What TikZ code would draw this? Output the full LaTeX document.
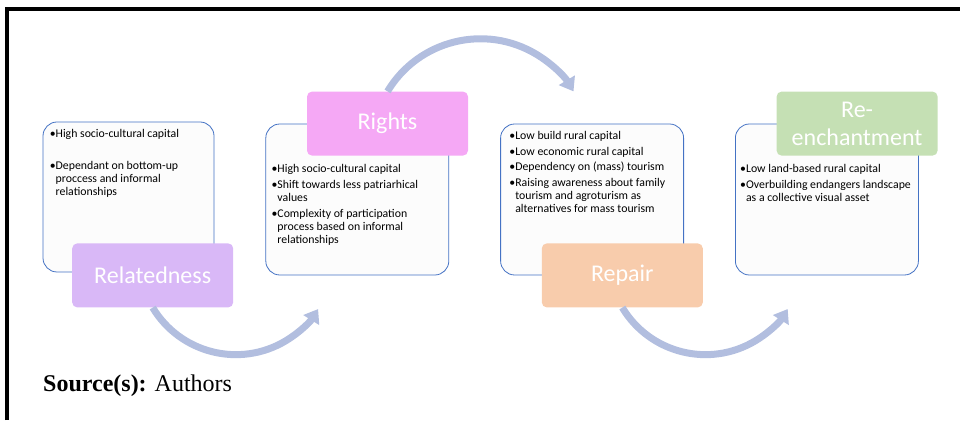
\documentclass[tikz,border=0pt]{standalone}
\usepackage{fontspec}
\setmainfont{Carlito}
\newfontfamily\timesfont{Liberation Serif}
\usepackage{xcolor}
\definecolor{boxblue}{HTML}{4472C4}
\definecolor{boxfill}{HTML}{FCFCFC}
\definecolor{relcol}{HTML}{D9B8F7}
\definecolor{rigcol}{HTML}{F5A8F5}
\definecolor{repcol}{HTML}{F8CCAC}
\definecolor{rencol}{HTML}{C5E0B4}
\definecolor{arrowcol}{HTML}{B2BEDF}
\usetikzlibrary{arrows.meta, positioning, calc}

\newcommand{\bl}{\textbullet}
\newcommand{\ind}{\phantom{\textbullet}}

\begin{document}
\begin{tikzpicture}[x=1pt, y=1pt,
    box/.style={rectangle, rounded corners=14pt, draw=boxblue, fill=boxfill, line width=0.8pt, minimum width=183pt, minimum height=151pt, inner sep=0pt},
    lab/.style={rectangle, rounded corners=5pt, minimum width=161pt, minimum height=64pt, inner sep=0pt, align=center, text=white, font=\fontsize{24}{28}\selectfont},
    txt/.style={inner sep=0pt, align=left, font=\fontsize{11.8}{13.2}\selectfont},
    flow/.style={draw=arrowcol, line width=7pt, -{Triangle[length=13pt, width=18pt]}},
    node distance=51pt]

        \useasboundingbox (0,0) rectangle (960,420);

        % Rahmen
        \draw[line width=3.5pt] (7,0) -- (7,411) -- (960,411);

        % Kaesten
        \node[box, minimum width=171pt, minimum height=150pt] (box1) at (128.5,223) {};
        \node[box, right=of box1, yshift=-2.5pt] (box2) {};
        \node[box, right=of box2] (box3) {};
        \node[box, right=of box3] (box4) {};

        % Texte in den Kaesten
        \node[txt, below right=8pt and 7pt of box1.north west] (txt1) {\bl High socio-cultural capital\\[18pt]
            \bl Dependant on bottom-up\\ \ind proccess and informal\\ \ind relationships};
        \node[txt, below right=41pt and 6pt of box2.north west] (txt2) {\bl High socio-cultural capital\\[2.3pt]
            \bl Shift towards less patriarhical\\ \ind values\\[2.3pt]
            \bl Complexity of participation\\ \ind process based on informal\\ \ind relationships};
        \node[txt, below right=8pt and 9pt of box3.north west] (txt3) {\bl Low build rural capital\\[2.3pt]
            \bl Low economic rural capital\\[2.3pt]
            \bl Dependency on (mass) tourism\\[2.3pt]
            \bl Raising awareness about family\\ \ind tourism and agroturism as\\ \ind alternatives for mass tourism};
        \node[txt, below right=41pt and 5pt of box4.north west] (txt4) {\bl Low land-based rural capital\\[2.3pt]
            \bl Overbuilding endangers landscape\\ \ind as a collective visual asset};

        % Etiketten
        \node[lab, fill=relcol, anchor=east] (rel) at ([xshift=19pt, yshift=-3pt]box1.south east) {Relatedness};
        \node[lab, fill=rigcol, anchor=east] (rig) at ([xshift=19pt]box2.north east) {Rights};
        \node[lab, fill=repcol, anchor=east] (rep) at ([xshift=19pt]box3.south east) {Repair};
        \node[lab, fill=rencol, anchor=east] (ren) at ([xshift=19pt]box4.north east) {Re-\\enchantment};

        % Pfeile
        \draw[flow] (rel.south) arc[start angle=211, end angle=328, radius=97pt];
        \draw[flow] (rig.north) arc[start angle=149, end angle=31, radius=108.5pt];
        \draw[flow] (rep.south) arc[start angle=211, end angle=328, radius=97pt];

        % Quelle
        \node[anchor=base west, inner sep=0pt, font=\timesfont\fontsize{24}{28}\selectfont] (src) at (43,28) {\textbf{Source(s):} Authors};

      \end{tikzpicture}
\end{document}
